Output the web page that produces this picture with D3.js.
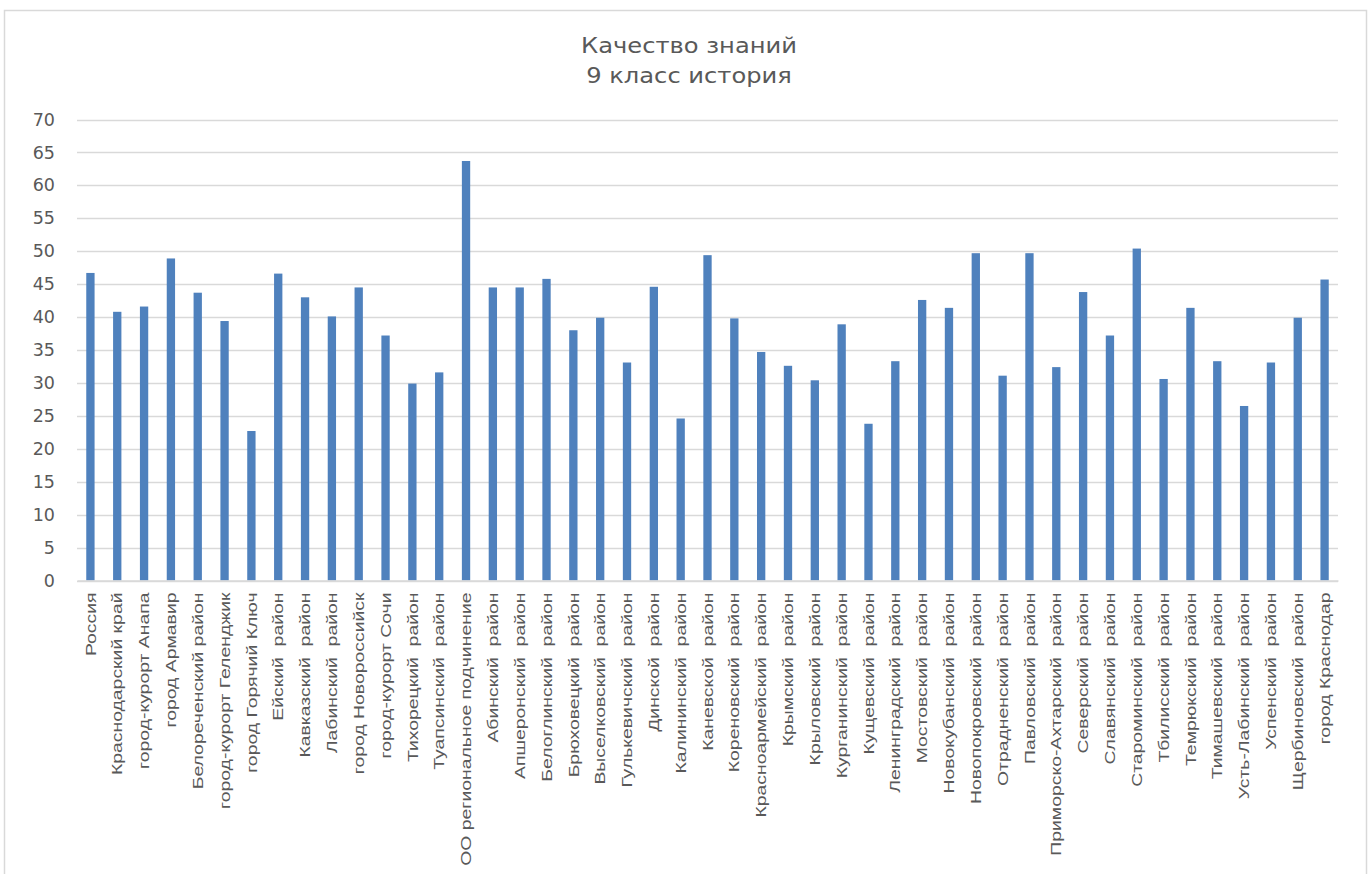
<!DOCTYPE html>
<html><head><meta charset="utf-8">
<script src="https://cdn.jsdelivr.net/npm/d3@7"></script>
<style>body{margin:0;background:#fff}svg{display:block}text{white-space:pre}</style>
</head><body><svg id="c" width="1371" height="874"></svg>
<script>
const categories = ["Россия","Краснодарский край","город-курорт Анапа","город Армавир","Белореченский район","город-курорт Геленджик","город Горячий Ключ","Ейский  район","Кавказский  район","Лабинский  район","город Новороссийск","город-курорт Сочи","Тихорецкий  район","Туапсинский  район","ОО региональное подчинение","Абинский  район","Апшеронский  район","Белоглинский  район","Брюховецкий  район","Выселковский  район","Гулькевичский  район","Динской  район","Калининский  район","Каневской  район","Кореновский  район","Красноармейский  район","Крымский  район","Крыловский  район","Курганинский  район","Кущевский  район","Ленинградский  район","Мостовский  район","Новокубанский  район","Новопокровский  район","Отрадненский  район","Павловский  район","Приморско-Ахтарский  район","Северский  район","Славянский  район","Староминский  район","Тбилисский  район","Темрюкский  район","Тимашевский  район","Усть-Лабинский  район","Успенский  район","Щербиновский  район","город Краснодар"];
const values = [46.7,40.8,41.6,48.9,43.7,39.4,22.7,46.6,43.0,40.1,44.5,37.2,29.9,31.6,63.7,44.5,44.5,45.8,38.0,39.9,33.1,44.6,24.6,49.4,39.8,34.7,32.6,30.4,38.9,23.8,33.3,42.6,41.4,49.7,31.1,49.7,32.4,43.8,37.2,50.4,30.6,41.4,33.3,26.5,33.1,39.9,45.7];
const yTicks = [0,5,10,15,20,25,30,35,40,45,50,55,60,65,70];
const titleLines = ["Качество знаний","9 класс история"];

const svg = d3.select("#c");
svg.append("rect").attr("x",4.5).attr("y",10.5).attr("width",1362).attr("height",880)
  .attr("fill","#fff").attr("stroke","#d9d9d9").attr("stroke-width",1.5);

const pLeft = 77, pRight = 1338, pTop = 119.5, pBottom = 580.5;
const x = d3.scaleBand().domain(categories).range([pLeft,pRight]).paddingInner(0.69).paddingOuter(0.345);
const y = d3.scaleLinear().domain([0,70]).range([pBottom,pTop]);

const grid = svg.append("g");
grid.selectAll("line").data(yTicks).join("line")
  .attr("x1",pLeft).attr("x2",pRight)
  .attr("y1",d=>Math.round(y(d))+0.5).attr("y2",d=>Math.round(y(d))+0.5)
  .attr("stroke","#d9d9d9").attr("stroke-width",1.3);

const yAxis = svg.append("g").attr("transform",`translate(${pLeft-22},0)`)
  .call(d3.axisLeft(y).tickValues(yTicks).tickSize(0).tickPadding(0));
yAxis.select(".domain").remove();
yAxis.selectAll("text").attr("fill","#595959").attr("font-family","'DejaVu Sans', Verdana, sans-serif").attr("font-size",17.5);

svg.append("g").selectAll("rect").data(values).join("rect")
  .attr("x",(d,i)=>x(categories[i])).attr("width",x.bandwidth())
  .attr("y",d=>y(d)).attr("height",d=>y(0)-y(d))
  .attr("fill","#4f81bd");

const xAxis = svg.append("g").attr("transform",`translate(0,${pBottom})`)
  .call(d3.axisBottom(x).tickSize(0).tickPadding(0));
xAxis.select(".domain").attr("stroke","#d9d9d9").attr("stroke-width",1.3);
xAxis.selectAll("text")
  .attr("fill","#595959").attr("font-family","'Liberation Sans', Arial, sans-serif").attr("font-size",19.4)
  .attr("transform","rotate(-90) scale(1,0.76)").attr("text-anchor","end").attr("dy","0.35em").attr("x",-12).attr("y",0);

svg.append("g").selectAll("text").data(titleLines).join("text")
  .attr("transform",(d,i)=>`translate(689,${53+i*30}) scale(1.18,1)`).attr("text-anchor","middle")
  .attr("fill","#595959").attr("font-family","'DejaVu Sans', Verdana, sans-serif").attr("font-size",20.5)
  .text(d=>d);
</script></body></html>
